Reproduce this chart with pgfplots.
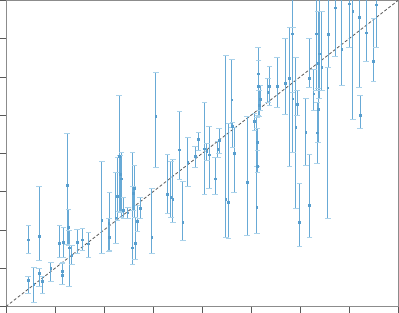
\documentclass[border=0pt]{standalone}
\usepackage{pgfplots}
\usepackage{pgfplotstable}
\pgfplotsset{compat=1.18}
\definecolor{barblue}{RGB}{104,170,214}
\definecolor{capblue}{RGB}{170,210,234}
\definecolor{mkblue}{RGB}{88,158,206}
\pgfplotstableread{
x y ep em
28.3 66.7 14.3 14
39 70.3 49.4 24.3
28 26 4.3 13.3
33.7 22 17.3 17.7
39 33.7 4.3 13.4
42.3 25 5 12.3
50.7 38.3 6 13.3
59.3 63.3 17.7 14.6
62 35.3 7.4 13.3
62.5 31 13 9
63.3 64.3 15 15
67 121.5 51.2 59.8
68.3 79 17.7 18
69 58.7 17.3 38.4
71.7 51.3 9.7 9.6
77 64.3 12.4 11.6
82.3 66.7 11 10.7
88.3 62.7 11.6 13.4
101.7 86 59.3 33.3
109.3 69.3 45 13.3
108.7 83.3 4.7 28
115.7 88.7 45.6 26
117.3 110 39.3 24
119 150.3 60.7 55
120 132 19 37.7
121.3 127.7 26.6 38.4
123.3 96 12.7 8.3
127.7 93.7 5.6 6
132.3 58.7 95.6 16.7
133 113.3 6.4 17.3
134.3 118.3 22.7 29.6
135 63.5 25.2 16
137.3 85 16 10
140 98.3 10.4 10.6
151.7 69.3 48.4 16.6
155.7 190 43.7 50.7
167.3 112 39.7 18.7
170.7 109.3 36 20
172.7 107 39.7 22.7
179.3 156.7 38.6 30
182.7 84.3 41 18.3
187.7 144.3 24.4 24.3
195 150 10.3 10.7
198.3 167 7.3 11
204.3 157.7 46 45.7
206.7 155 8.3 9
209 151.7 28.6 34
215 127.7 21 15.7
217.7 157 8.3 7.7
219 166 11.7 13.3
225.7 107 144 37.7
228.3 104.3 79 36.6
231.7 206.7 40 27.4
232.3 180 4.3 20.7
234 153.3 26 39
247 124.3 65.7 53.3
254.3 185.3 7.4 9.3
256.7 99.3 90 26.6
257 164.3 13.7 24.3
257.3 140 16 6
258 220 38.7 29
258.5 232.7 13.3 16.7
259 201 15 11
260 207 14 11
267.7 214.3 13.4 10
269.3 220.3 19.7 19.3
277 220.3 29 21.6
285 223.3 44.4 31.6
289.3 228.3 50.4 88.3
292.3 272.7 50 58.4
292.7 207.7 71 53.4
295.7 179.3 70 81.6
297 202 14 11
299.3 84.3 38.4 24.6
305.7 174.3 33.4 33.3
309 228.3 39.4 9.6
309.5 101 50.7 32.3
313.7 212.7 24.3 16.7
316 272.7 50 56.7
318 243 52.3 27
317 173.7 30.6 31
319 252.7 70 45
321.7 239.3 56 23.3
327.7 218.7 20 131
328 272 50 32.7
335 298.7 30 48.7
341.7 257 70 36
349 302.7 30 44
352.7 295.3 30 108.3
359 289.3 40 70.6
360 191 20 13.3
366 273.7 50 28.7
373.3 245 42.7 20
376 301.7 30 43
318 197.3 20.7 33.6
}\datatable
\begin{document}
\begin{tikzpicture}
\begin{axis}[
  scale only axis,
  width=392bp, height=306bp,
  xmin=6, xmax=398, ymin=0, ymax=306,
  xtick={6,55,104,153,202,251,300,349,398},
  ytick={0,38.25,76.5,114.75,153,191.25,229.5,267.75,306},
  xticklabel=\empty, yticklabel=\empty,
  tick pos=left, tick align=outside,
  major tick length=6bp,
  axis line style={draw=black!45, line width=1pt},
  tick style={draw=black!65, line width=0.8pt},
]
\addplot[draw=black!65, line width=0.8pt, dash pattern=on 3bp off 2bp] coordinates {(6,0) (398,306)};
\addplot[draw=capblue, only marks, mark=-, mark size=2.8bp, mark options={draw=capblue, line width=0.8pt}]
  table[x=x, y expr=\thisrow{y}+\thisrow{ep}] {\datatable};
\addplot[draw=capblue, only marks, mark=-, mark size=2.8bp, mark options={draw=capblue, line width=0.8pt}]
  table[x=x, y expr=\thisrow{y}-\thisrow{em}] {\datatable};
\addplot[draw=mkblue, fill=mkblue, only marks, mark=square*, mark size=0.9bp,
  mark options={draw=mkblue, fill=mkblue},
  error bars/.cd, y dir=both, y explicit, error mark=none,
  error bar style={line width=1.0pt, draw=barblue}]
  table[x=x, y=y, y error plus=ep, y error minus=em] {\datatable};
\end{axis}
\pgfresetboundingbox
\useasboundingbox (-6bp,-6bp) rectangle (393bp,306.5bp);
\end{tikzpicture}
\end{document}
